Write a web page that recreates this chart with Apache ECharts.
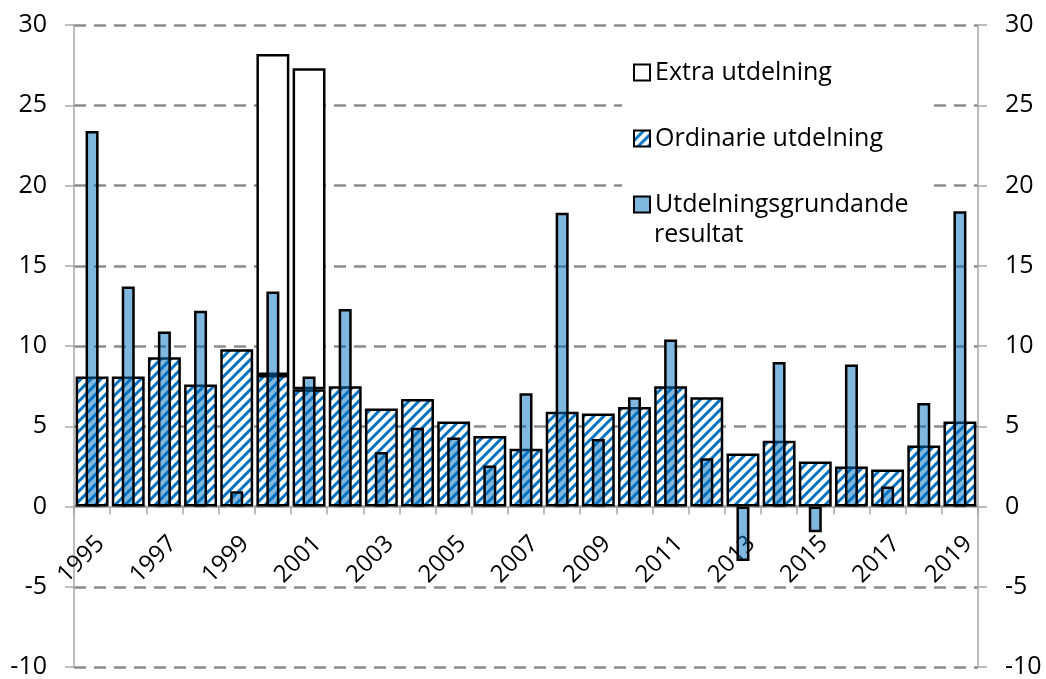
<!DOCTYPE html>
<html>
<head>
    <meta charset="utf-8">
    <title>Utdelning</title>
    <script src="https://cdn.jsdelivr.net/npm/echarts@6/dist/echarts.min.js"></script>
    <style>
        *{
            padding: 0;
            margin: 0;
        }
        html, body{
            width: 100%;
            height: 100%;
            background: #fff;
        }
        #main{
            width: 1046px;
            height: 679px;
        }
    </style>
</head>
<body>
    <div id="main"></div>
</body>
<script>
    // data
    var years = ['1995','1996','1997','1998','1999','2000','2001','2002','2003','2004','2005','2006','2007',
                 '2008','2009','2010','2011','2012','2013','2014','2015','2016','2017','2018','2019'];
    var ordinarie = [8.1, 8.1, 9.3, 7.6, 9.8, 8.2, 7.3, 7.5, 6.1, 6.7, 5.3, 4.4, 3.6,
                     5.9, 5.8, 6.2, 7.5, 6.8, 3.3, 4.1, 2.8, 2.5, 2.3, 3.8, 5.3];
    var extra = [0, 0, 0, 0, 0, 20.0, 20.0, 0, 0, 0, 0, 0, 0,
                 0, 0, 0, 0, 0, 0, 0, 0, 0, 0, 0, 0];
    var resultat = [23.4, 13.7, 10.9, 12.2, 0.95, 13.4, 8.1, 12.3, 3.4, 4.9, 4.3, 2.55, 7.05,
                    18.3, 4.2, 6.8, 10.4, 3.0, -3.4, 9.0, -1.6, 8.85, 1.25, 6.45, 18.4];

    var FONT = '"Open Sans", sans-serif';
    var GRID_TOP = 25, GRID_BOTTOM = 12, H = 679;
    var Y_MIN = -10, Y_MAX = 30;
    // pixel distance from grid bottom up to the value 0 (x axis sits on zero)
    var zeroOffset = (H - GRID_TOP - GRID_BOTTOM) * (0 - Y_MIN) / (Y_MAX - Y_MIN);

    // hatch pattern for the ordinary dividend
    function makeHatch() {
        var c = document.createElement('canvas');
        c.width = 10;
        c.height = 10;
        var g = c.getContext('2d');
        g.fillStyle = '#fff';
        g.fillRect(0, 0, 10, 10);
        g.strokeStyle = '#0070C0';
        g.lineWidth = 3;
        g.beginPath();
        g.moveTo(-5, 5); g.lineTo(5, -5);
        g.moveTo(0, 10); g.lineTo(10, 0);
        g.moveTo(5, 15); g.lineTo(15, 5);
        g.stroke();
        return c;
    }

    var myChart = echarts.init(document.getElementById('main'));

    var yAxisBase = {
        type: 'value',
        min: Y_MIN,
        max: Y_MAX,
        interval: 5,
        axisLine: { show: true, lineStyle: { color: '#a6a6a6', width: 1.5 } },
        axisTick: { show: true, length: 9, lineStyle: { color: '#a6a6a6', width: 1.5 } },
        axisLabel: { color: '#000', fontSize: 25, fontFamily: FONT, margin: 27 }
    };

    myChart.setOption({
        animation: false,
        grid: { left: 74, right: 68, top: GRID_TOP, bottom: GRID_BOTTOM, outerBoundsMode: 'none', containLabel: false },
        legend: {
            orient: 'vertical',
            left: 622,
            top: 48,
            padding: [12, 20, 42, 11],
            itemGap: 41,
            itemWidth: 16,
            itemHeight: 16,
            icon: 'rect',
            selectedMode: false,
            backgroundColor: '#fff',
            data: ['Extra utdelning', 'Ordinarie utdelning', 'Utdelningsgrundande resultat'],
            formatter: function (name) {
                return name === 'Utdelningsgrundande resultat' ? 'Utdelningsgrundande' : name;
            },
            textStyle: { color: '#000', fontSize: 25, fontFamily: FONT }
        },
        graphic: [{
            type: 'text',
            left: 654,
            top: 222,
            z: 10,
            style: { text: 'resultat', fill: '#000', font: '25px ' + FONT }
        }],
        xAxis: [{
            type: 'category',
            data: years,
            position: 'bottom',
            offset: -zeroOffset,
            axisLine: { onZero: false, lineStyle: { color: '#a6a6a6', width: 1.5 } },
            axisTick: { show: true, interval: 0, length: 8, lineStyle: { color: '#a6a6a6', width: 1.5 } },
            axisLabel: {
                interval: 1,
                rotate: 45,
                margin: 25,
                align: 'right',
                verticalAlign: 'top',
                color: '#000',
                fontSize: 24,
                fontFamily: FONT
            }
        }, {
            type: 'category',
            data: years,
            show: false,
            axisLine: { show: false },
            axisTick: { show: false },
            axisLabel: { show: false },
            splitLine: { show: false }
        }],
        yAxis: [
            Object.assign({}, yAxisBase, {
                position: 'left',
                splitLine: { show: true, lineStyle: { color: '#8c8c8c', width: 2.5, type: [12, 8] } }
            }),
            Object.assign({}, yAxisBase, {
                position: 'right',
                splitLine: { show: false }
            })
        ],
        series: [{
            name: 'Ordinarie utdelning',
            type: 'bar',
            stack: 'u',
            xAxisIndex: 0,
            barCategoryGap: '9%',
            data: ordinarie,
            itemStyle: {
                color: { image: makeHatch(), repeat: 'repeat' },
                borderColor: '#000',
                borderWidth: 2.5
            }
        }, {
            name: 'Extra utdelning',
            type: 'bar',
            stack: 'u',
            xAxisIndex: 0,
            data: extra.map(function (v) { return v === 0 ? '-' : v; }),
            itemStyle: { color: '#fff', borderColor: '#000', borderWidth: 2.5 }
        }, {
            name: 'Utdelningsgrundande resultat',
            type: 'bar',
            xAxisIndex: 1,
            barWidth: '36%',
            z: 3,
            data: resultat,
            itemStyle: { color: 'rgba(0,112,192,0.5)', borderColor: '#000', borderWidth: 2.5 }
        }]
    });
</script>
</html>
